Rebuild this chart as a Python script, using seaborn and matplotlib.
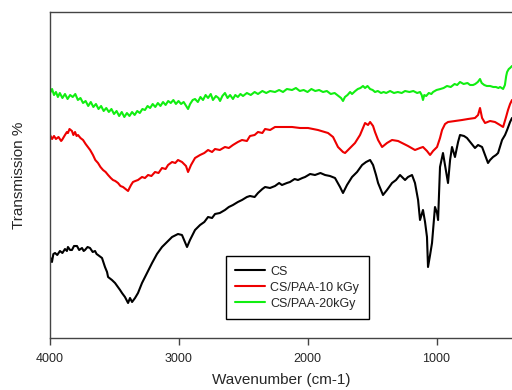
import matplotlib
matplotlib.use("Agg")
import matplotlib.pyplot as plt
import seaborn as sns
import pandas as pd

# ---- data (wavenumber cm-1, transmission a.u.) ----
cs_wn = [3996, 3981, 3970, 3957, 3940, 3919, 3900, 3880, 3865, 3857, 3840, 3826, 3810, 3787,
         3770, 3748, 3735, 3725, 3705, 3686, 3665, 3647, 3635, 3624, 3593,
         3570, 3554, 3546, 3516, 3492, 3453, 3438, 3415, 3391, 3376, 3360, 3337, 3314, 3283,
         3244, 3205, 3167, 3128, 3089, 3050, 3004, 2973, 2950, 2934, 2911, 2872, 2833, 2800,
         2771, 2740, 2717, 2680, 2640, 2610, 2578, 2540, 2508, 2470, 2446, 2410, 2384, 2350,
         2329, 2291, 2252, 2220, 2198, 2160, 2136, 2100, 2074, 2040, 2019, 1980, 1942,
         1900, 1864, 1826, 1787, 1748, 1725, 1694, 1655, 1616, 1577, 1546, 1515, 1492, 1469, 1453,
         1415, 1384, 1345, 1314, 1283, 1260, 1244, 1221, 1190, 1167, 1143, 1128, 1105, 1089,
         1074, 1066, 1050, 1035, 1012, 996, 988, 973, 950, 919, 911, 895, 880, 857, 833, 818,
         787, 764, 733, 702, 678, 647, 624, 601, 585, 562, 539, 523, 492, 469, 453, 430, 415]
cs_t = [81, 76, 84, 85, 83, 87, 85, 89, 87, 91, 88, 88, 92, 92,
        88, 90, 87, 88, 91, 90, 86, 87, 84, 83, 80,
        71, 66, 61, 58, 55, 48, 45, 41, 35, 40, 36, 40, 45, 55,
        65, 75, 84, 91, 96, 101, 104, 103, 96, 91, 98, 108, 113, 116,
        121, 120, 124, 125, 128, 131, 133, 136, 138, 141, 142, 141, 145, 149,
        151, 150, 152, 155, 153, 155, 156, 159, 158, 160, 161, 164, 163,
        165, 163, 162, 160, 151, 145, 153, 161, 166, 173, 176, 178, 173, 163, 155,
        143, 148, 155, 158, 163, 160, 158, 161, 163, 155, 138, 118, 128, 116,
        101, 71, 83, 95, 131, 125, 118, 171, 185, 161, 155, 178, 191, 181, 196, 203,
        202, 200, 195, 190, 193, 191, 183, 175, 178, 181, 183, 185, 198, 203, 208, 216, 220]

paa10_wn = [3996, 3980, 3965, 3950, 3930, 3910, 3903, 3880, 3865, 3857, 3845, 3826, 3815, 3802,
            3790, 3779, 3760, 3740, 3720, 3702, 3685, 3663, 3645, 3624, 3605, 3585, 3565, 3546,
            3525, 3508, 3490, 3469, 3450, 3430, 3410, 3391, 3380, 3368, 3353, 3335, 3314, 3283,
            3260, 3236, 3210, 3182, 3155, 3128, 3100, 3081, 3050, 3025, 3004, 2973,
            2942, 2926, 2903, 2872, 2833, 2800, 2771, 2740, 2717, 2680, 2640, 2610, 2578, 2540,
            2508, 2470, 2446, 2410, 2384, 2350, 2329, 2290, 2252,
            2190, 2120, 2058, 1996, 1919, 1841, 1802, 1764, 1725, 1709, 1670, 1632, 1593, 1554,
            1531, 1515, 1492, 1477, 1453, 1422, 1384, 1345, 1298, 1267, 1221, 1167, 1128, 1105,
            1074, 1050, 1027, 996, 973, 957, 934, 911, 857, 802, 756, 702, 678, 663, 647, 624,
            585, 547, 508, 484, 461, 446, 430, 415]
paa10_t = [203, 199, 202, 199, 201, 197, 198, 203, 206, 205, 209, 207, 203, 206,
           202, 203, 200, 198, 194, 191, 188, 183, 178, 175, 171, 168, 166, 163,
           160, 158, 157, 155, 152, 151, 149, 147, 150, 153, 156, 157, 158, 161,
           160, 163, 162, 166, 165, 170, 169, 173, 176, 175, 178, 176,
           172, 166, 173, 180, 183, 185, 188, 186, 189, 188, 191, 190, 193, 196,
           198, 197, 202, 203, 206, 205, 209, 208, 211,
           211, 211, 210, 210, 208, 205, 201, 191, 186, 185, 190, 195, 203, 215,
           213, 216, 212, 206, 198, 191, 195, 198, 197, 195, 192, 188, 190, 191,
           187, 183, 187, 191, 200, 208, 214, 216, 217, 218, 219, 220, 223, 230, 220, 215,
           217, 216, 213, 211, 221, 228, 234, 238]

paa20_wn = [3996, 3980, 3965, 3950, 3935, 3920, 3900, 3880, 3860, 3840, 3820, 3800, 3780, 3760,
            3740, 3720, 3700, 3680, 3660, 3640, 3620, 3600, 3580, 3560, 3540, 3520, 3500, 3480,
            3460, 3440, 3420, 3400, 3380, 3360, 3340, 3320, 3300, 3280, 3260, 3240, 3220, 3200,
            3180, 3160, 3140, 3120, 3100, 3080, 3060, 3040, 3020, 3000, 2980, 2960, 2940, 2926,
            2910, 2890, 2872, 2850, 2830, 2810, 2790, 2771, 2750, 2733, 2710, 2690, 2678, 2660,
            2640, 2620, 2600, 2578, 2560, 2540, 2520, 2500, 2470, 2440, 2410, 2384, 2350, 2320,
            2290, 2252, 2220, 2190, 2160, 2120, 2090, 2060, 2030, 2000, 1970, 1940, 1910, 1880,
            1850, 1820, 1790, 1760, 1740, 1725, 1710, 1690, 1670, 1655, 1630, 1610, 1590, 1570,
            1554, 1535, 1515, 1495, 1477, 1455, 1430, 1410, 1390, 1360, 1330, 1300, 1270, 1244,
            1210, 1180, 1150, 1128, 1115, 1105, 1095, 1080, 1060, 1040, 1027, 1000, 970, 945,
            919, 890, 860, 840, 818, 790, 760, 740, 717, 700, 680, 663, 650, 630, 610, 585,
            560, 540, 520, 508, 495, 484, 470, 460, 453, 440, 430, 415]
paa20_t = [245, 249, 243, 246, 241, 245, 240, 244, 239, 243, 241, 244, 238, 240,
           235, 237, 232, 236, 231, 234, 229, 232, 227, 230, 226, 229, 224, 227,
           222, 226, 221, 225, 222, 226, 223, 227, 225, 229, 228, 232, 230, 234,
           231, 235, 232, 236, 233, 237, 235, 238, 234, 237, 234, 236, 232, 229,
           234, 238, 239, 236, 241, 238, 243, 240, 244, 238, 242, 240, 237, 242,
           245, 240, 243, 239, 243, 241, 244, 242, 245, 243, 246, 244, 247, 245,
           247, 246, 248, 246, 249, 248, 250, 247, 248, 246, 249, 247, 248, 246,
           247, 244, 245, 242, 240, 237, 241, 243, 246, 244, 247, 249, 250, 252,
           250, 252, 249, 248, 246, 247, 245, 246, 245, 247, 245, 246, 245, 247,
           246, 247, 245, 246, 243, 238, 243, 242, 245, 244, 246, 248, 249, 250,
           252, 251, 254, 253, 256, 254, 255, 253, 253, 254, 256, 259, 255, 253, 252, 252,
           251, 251, 250, 251, 250, 249, 253, 262, 266, 269, 270, 272]

labels = ["CS", "CS/PAA-10 kGy", "CS/PAA-20kGy"]
colors = ["#000000", "#ee0000", "#11ee11"]
xticks = [4000, 3000, 2000, 1000]

df = pd.concat([
    pd.DataFrame({"wn": cs_wn, "T": cs_t, "sample": labels[0]}),
    pd.DataFrame({"wn": paa10_wn, "T": paa10_t, "sample": labels[1]}),
    pd.DataFrame({"wn": paa20_wn, "T": paa20_t, "sample": labels[2]}),
], ignore_index=True)

sns.set_style("white")
plt.rcParams["font.family"] = ["Liberation Sans", "DejaVu Sans"]

fig = plt.figure(figsize=(5.12, 3.9), dpi=100)
ax = fig.add_axes([49.5 / 512, 1 - 338 / 390, 1 - 49.5 / 512, (338 - 12) / 390])

sns.lineplot(data=df, x="wn", y="T", hue="sample", hue_order=labels,
             palette=dict(zip(labels, colors)), estimator=None, sort=False,
             linewidth=1.5, ax=ax)

ax.set_xlim(4000, 415)
ax.set_ylim(0, 326)
ax.set_xticks(xticks)
ax.set_xticklabels([str(v) for v in xticks], fontsize=9)
ax.set_yticks([])
ax.tick_params(axis="x", direction="out", length=5, width=1, color="#444444", pad=6, bottom=True)
ax.set_xlabel("Wavenumber (cm-1)", fontsize=11, labelpad=5.5)
ax.set_ylabel("Transmission %", fontsize=11, labelpad=17)
for s in ["left", "top", "bottom"]:
    ax.spines[s].set_color("#444444")
    ax.spines[s].set_linewidth(1)
ax.spines["right"].set_visible(False)

leg = ax.legend(loc="lower left", bbox_to_anchor=((226 - 49.5) / 462.5, (338 - 319) / 326),
                borderaxespad=0, fontsize=9, frameon=True, fancybox=False,
                edgecolor="#000000", framealpha=1, borderpad=0.75, labelspacing=0.32,
                handlelength=2.4, handletextpad=0.4, title=None)
leg.get_frame().set_linewidth(1)

fig.savefig("out.png", dpi=100)
